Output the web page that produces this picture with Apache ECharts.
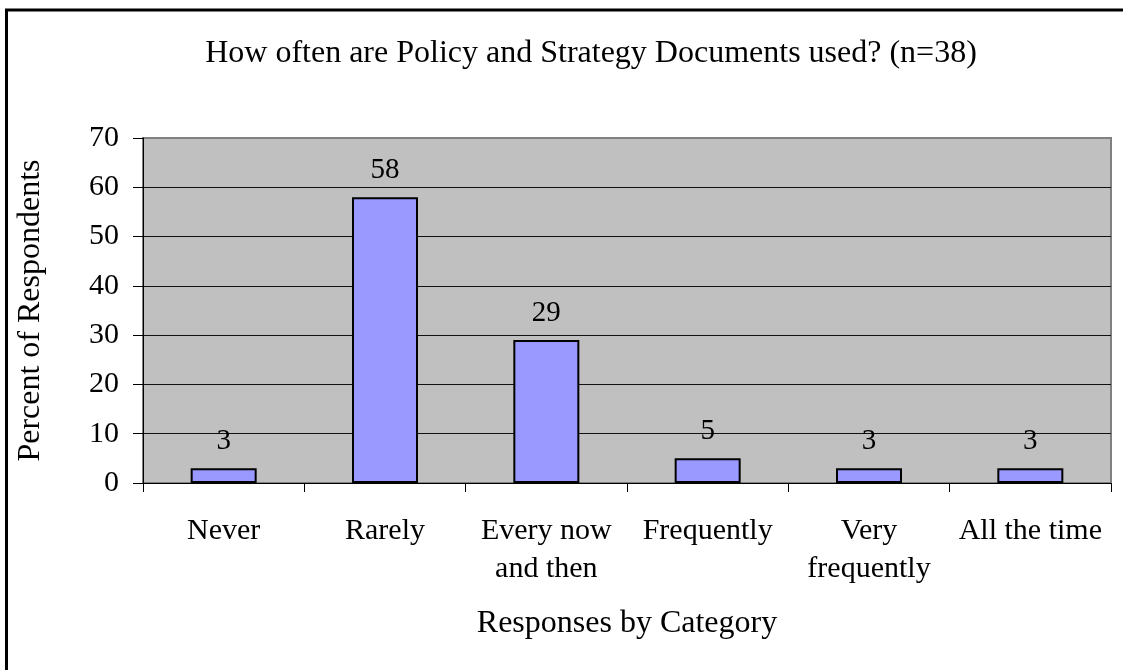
<!DOCTYPE html>
<html>
<head>
<meta charset="utf-8">
<title>How often are Policy and Strategy Documents used?</title>
<script src="https://cdn.jsdelivr.net/npm/echarts@6/dist/echarts.min.js"></script>
<style>
  html, body { margin: 0; padding: 0; background: #fff; }
  #chart { width: 1123px; height: 670px; }
</style>
</head>
<body>
<div id="chart"></div>
<script>
// Survey responses, percent of respondents per category
const categories = ['Never', 'Rarely', 'Every now\nand then', 'Frequently', 'Very\nfrequently', 'All the time'];
const percents = [3, 58, 29, 5, 3, 3];
const yTicks = { min: 0, max: 70, interval: 10 };

const FONT = "'Liberation Serif', 'Times New Roman', serif";

// Gridlines are dark; the topmost one coincides with the gray plot-area frame
const gridLineColors = ['#111', '#111', '#111', '#111', '#111', '#111', '#111', '#808080'];

const chart = echarts.init(document.getElementById('chart'), null, { renderer: 'canvas' });

chart.setOption({
  backgroundColor: '#ffffff',
  animation: false,
  title: {
    text: 'How often are Policy and Strategy Documents used? (n=38)',
    left: 586,
    top: 33,
    textAlign: 'center',
    textStyle: { fontFamily: FONT, fontSize: 32, fontWeight: 'normal', color: '#000' }
  },
  grid: {
    left: 143, right: 12, top: 138, bottom: 187,
    outerBoundsMode: 'none',
    show: true,
    backgroundColor: '#c0c0c0',
    borderColor: '#808080',
    borderWidth: 2
  },
  xAxis: {
    type: 'category',
    data: categories,
    boundaryGap: true,
    name: 'Responses by Category',
    nameLocation: 'middle',
    nameGap: 125,
    nameTextStyle: { fontFamily: FONT, fontSize: 32, color: '#000' },
    axisLine: { show: true, lineStyle: { color: '#000', width: 1 } },
    axisTick: { show: true, alignWithLabel: false, length: 9, lineStyle: { color: '#000' } },
    axisLabel: {
      interval: 0,
      margin: 29,
      fontFamily: FONT, fontSize: 30, color: '#000',
      lineHeight: 38,
      align: 'center'
    },
    splitLine: { show: false }
  },
  yAxis: {
    type: 'value',
    min: yTicks.min,
    max: yTicks.max,
    interval: yTicks.interval,
    name: 'Percent of Respondents',
    nameLocation: 'middle',
    nameGap: 96,
    nameTextStyle: { fontFamily: FONT, fontSize: 32, color: '#000' },
    axisLine: { show: true, lineStyle: { color: '#000', width: 1 } },
    axisTick: { show: true, inside: false, length: 10, lineStyle: { color: '#000' } },
    axisLabel: { margin: 24, fontFamily: FONT, fontSize: 30, color: '#000' },
    splitLine: { show: true, lineStyle: { color: gridLineColors, width: 1 } }
  },
  series: [{
    type: 'bar',
    data: percents,
    barWidth: 66,
    itemStyle: { color: '#9999ff', borderColor: '#000', borderWidth: 2 },
    label: {
      show: true,
      position: 'top',
      distance: 12,
      fontFamily: FONT, fontSize: 29, color: '#000'
    }
  }],
  graphic: [
    // Chart area frame (left and top edges)
    { type: 'line', shape: { x1: 6.5, y1: 9, x2: 6.5, y2: 670 }, style: { stroke: '#000', lineWidth: 3 }, silent: true },
    { type: 'line', shape: { x1: 5, y1: 10, x2: 1123, y2: 10 }, style: { stroke: '#000', lineWidth: 3 }, silent: true }
  ]
});
</script>
</body>
</html>
